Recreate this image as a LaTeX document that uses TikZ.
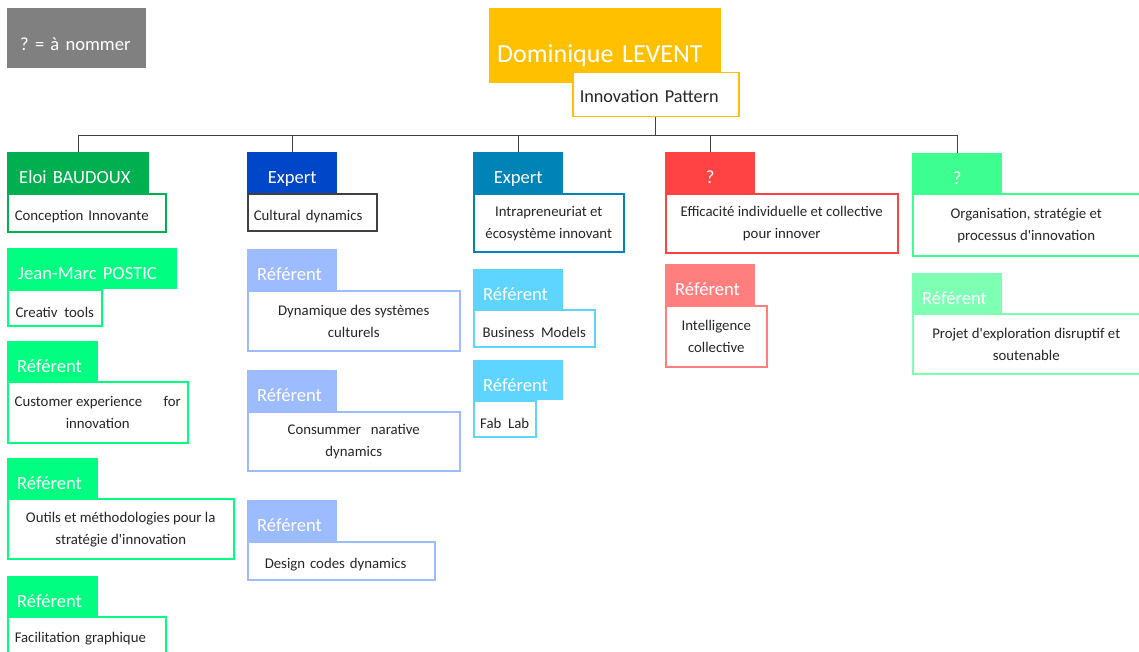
\documentclass[tikz,border=0pt]{standalone}
\usepackage{fontspec}
\setmainfont{Carlito}[Ligatures=TeXOff]
\hyphenpenalty=10000
\frenchspacing
\newcommand\fsize[2]{\fontsize{#1}{#2}\selectfont}

\definecolor{legendgray}{HTML}{808080}
\definecolor{gold}{HTML}{FFC000}
\definecolor{frame}{HTML}{404040}
\definecolor{greenA}{HTML}{00B050}
\definecolor{greenB}{HTML}{00FF80}
\definecolor{blueA}{HTML}{0046C8}
\definecolor{blueB}{HTML}{9DBBFF}
\definecolor{tealA}{HTML}{0084B8}
\definecolor{tealB}{HTML}{5DD5FF}
\definecolor{redA}{HTML}{FF4343}
\definecolor{redB}{HTML}{FF7F7F}
\definecolor{mintA}{HTML}{3DFF8F}
\definecolor{mintB}{HTML}{7DFFB4}

\begin{document}
\begin{tikzpicture}[
	x=1pt, y=-1pt,
	head/.style={anchor=north west, inner ysep=0pt, text=white,
		font=\fsize{18.6}{22}, text height=22pt, text depth=0pt},
	body/.style={anchor=north west, draw, fill=white, line width=1.5pt, text=black!85,
		inner ysep=0pt, font=\fsize{14.8}{22},
		execute at begin node={\rule{0pt}{18pt}}},
	link/.style={draw=black!75, line width=1.2pt}
	]
	\useasboundingbox (0,0) rectangle (1139,652);
	
	% legend and head of the chart
	\node[head, fill=legendgray, minimum width=139pt, minimum height=60pt, inner xsep=13pt,
	text width=113pt, align=left, text height=24pt] (legend) at (7,8) {? = à nommer};
	\node[head, fill=gold, minimum width=232pt, minimum height=75pt, inner xsep=8pt,
	text width=216pt, align=left, font=\fsize{26}{30}, text height=33pt]
	(boss) at (489,8) {Dominique LEVENT};
	\node[body, draw=gold, minimum width=166pt, minimum height=44pt, inner xsep=7pt,
	text width=152pt, align=left, font=\fsize{18.2}{22},
	text height=16pt, text depth=0pt] (pattern) at (572,72) {Innovation Pattern};
	
	% column 1
	\node[head, fill=greenA, minimum width=142pt, minimum height=41pt, inner xsep=12pt,
	text width=118pt, align=left] (eloi) at (7,152) {Eloi BAUDOUX};
	\node[body, draw=greenA, minimum width=158pt, minimum height=38pt, inner xsep=7pt,
	text width=144pt, align=left] (concept) at (eloi.south west) {Conception Innovante};
	\node[head, fill=greenB, minimum width=170pt, minimum height=41pt, inner xsep=11pt,
	text width=148pt, align=left] (postic) at (7,248) {Jean-Marc POSTIC};
	\node[body, draw=greenB, minimum width=94pt, minimum height=36pt, align=center]
	(creativ) at (postic.south west) {Creativ\ \ tools};
	\node[head, fill=greenB, minimum width=91pt, minimum height=40pt, inner xsep=10pt,
	text width=71pt, align=left] (refAa) at (7,341) {Référent};
	\node[body, draw=greenB, minimum width=180pt, minimum height=61pt, align=center]
	(custom) at (refAa.south west) {Customer experience\quad\ \ for\\innovation};
	\node[head, fill=greenB, minimum width=91pt, minimum height=40pt, inner xsep=10pt,
	text width=71pt, align=left] (refAb) at (7,458) {Référent};
	\node[body, draw=greenB, minimum width=226pt, minimum height=60pt, align=center]
	(outils) at (refAb.south west) {Outils et méthodologies pour la\\stratégie d'innovation};
	\node[head, fill=greenB, minimum width=91pt, minimum height=40pt, inner xsep=10pt,
	text width=71pt, align=left] (refAc) at (7,576) {Référent};
	\node[body, draw=greenB, minimum width=158pt, minimum height=36pt, inner xsep=7pt,
	text width=144pt, align=left] (facil) at (refAc.south west) {Facilitation graphique};
	
	% column 2
	\node[head, fill=blueA, minimum width=90pt, minimum height=41pt, align=center]
	(expA) at (247,152) {Expert};
	\node[body, draw=frame, minimum width=129pt, minimum height=37pt, inner xsep=6pt,
	text width=117pt, align=left] (cultural) at (expA.south west) {Cultural dynamics};
	\node[head, fill=blueB, minimum width=90pt, minimum height=41pt, inner xsep=10pt,
	text width=70pt, align=left] (refBa) at (247,249) {Référent};
	\node[body, draw=blueB, minimum width=212pt, minimum height=60pt, align=center]
	(systems) at (refBa.south west) {Dynamique des systèmes\\culturels};
	\node[head, fill=blueB, minimum width=90pt, minimum height=41pt, inner xsep=10pt,
	text width=70pt, align=left] (refBb) at (247,370) {Référent};
	\node[body, draw=blueB, minimum width=212pt, minimum height=59pt, align=center]
	(narative) at (refBb.south west) {Consummer\ \ \ narative\\dynamics};
	\node[head, fill=blueB, minimum width=90pt, minimum height=41pt, inner xsep=10pt,
	text width=70pt, align=left] (refBc) at (247,500) {Référent};
	\node[body, draw=blueB, minimum width=187pt, minimum height=38pt, inner xsep=17pt,
	text width=153pt, align=left] (design) at (refBc.south west) {Design codes dynamics};
	
	% column 3
	\node[head, fill=tealA, minimum width=90pt, minimum height=41pt, align=center]
	(expB) at (473,152) {Expert};
	\node[body, draw=tealA, minimum width=150pt, minimum height=58pt, align=center]
	(intra) at (expB.south west) {Intrapreneuriat et\\écosystème innovant};
	\node[head, fill=tealB, minimum width=90pt, minimum height=40pt, inner xsep=10pt,
	text width=70pt, align=left] (refCa) at (473,269) {Référent};
	\node[body, draw=tealB, minimum width=121pt, minimum height=37pt, align=center]
	(business) at (refCa.south west) {Business\ \ Models};
	\node[head, fill=tealB, minimum width=90pt, minimum height=40pt, inner xsep=10pt,
	text width=70pt, align=left] (refCb) at (473,360) {Référent};
	\node[body, draw=tealB, minimum width=62pt, minimum height=36pt, align=center]
	(fablab) at (refCb.south west) {Fab\ \ Lab};
	
	% column 4
	\node[head, fill=redA, minimum width=90pt, minimum height=41pt, align=center]
	(qA) at (665,152) {?};
	\node[body, draw=redA, minimum width=232pt, minimum height=59pt, align=center]
	(efficacy) at (qA.south west) {Efficacité individuelle et collective\\pour innover};
	\node[head, fill=redB, minimum width=90pt, minimum height=41pt, inner xsep=10pt,
	text width=70pt, align=left] (refDa) at (665,264) {Référent};
	\node[body, draw=redB, minimum width=101pt, minimum height=61pt, align=center]
	(intel) at (refDa.south west) {Intelligence\\collective};
	
	% column 5
	\node[head, fill=mintA, minimum width=90pt, minimum height=40pt, align=center]
	(qB) at (912,153) {?};
	\node[body, draw=mintA, minimum width=227pt, minimum height=62pt, align=center]
	(orga) at (qB.south west) {Organisation, stratégie et\\processus d'innovation};
	\node[head, fill=mintB, minimum width=90pt, minimum height=40pt, inner xsep=10pt,
	text width=70pt, align=left] (refEa) at (912,273) {Référent};
	\node[body, draw=mintB, minimum width=227pt, minimum height=60pt, align=center]
	(projet) at (refEa.south west) {Projet d'exploration disruptif et\\soutenable};
	
	% tree
	\foreach \h in {eloi,expA,expB,qA,qB}
	\draw[link] (pattern.south) -- ++(0,18) -| (\h.north);
\end{tikzpicture}
\end{document}
